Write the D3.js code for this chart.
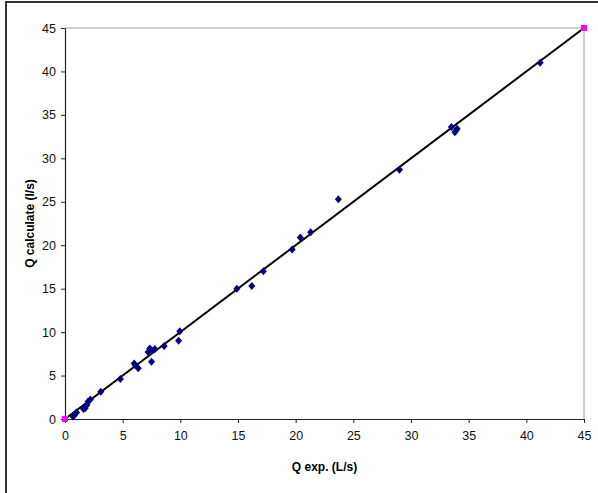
<!DOCTYPE html>
<html>
<head>
<meta charset="utf-8">
<script src="https://cdn.jsdelivr.net/npm/d3@7"></script>
<style>
  html, body { margin: 0; padding: 0; background: #fff; }
  svg { display: block; }
  text { font-family: "Liberation Sans", Arial, sans-serif; }
</style>
</head>
<body>
<svg id="chart" width="598" height="493"></svg>
<script>
// Measured data: Q exp. (L/s) vs Q calculate (l/s)
const qExp  = [0.7, 0.85, 1.0, 1.6, 1.75, 1.9, 2.0, 2.2, 3.1, 4.8, 6.0, 6.1, 6.35, 7.2, 7.35, 7.5, 7.5, 7.8, 8.6, 9.85, 9.95, 14.9, 16.2, 17.2, 19.7, 20.4, 21.3, 23.7, 29.0, 33.5, 33.8, 34.0, 33.9, 41.2];
const qCalc = [0.3, 0.5, 0.75, 1.15, 1.25, 1.6, 2.0, 2.25, 3.15, 4.6, 6.4, 6.2, 5.85, 7.7, 8.1, 7.9, 6.6, 8.05, 8.4, 9.0, 10.1, 15.0, 15.3, 17.0, 19.5, 20.9, 21.5, 25.3, 28.7, 33.6, 33.0, 33.4, 33.2, 41.0];
// 1:1 reference line and its end markers
const lineX = [0, 45];
const lineY = [0, 45];
const xTicks = [0, 5, 10, 15, 20, 25, 30, 35, 40, 45];
const yTicks = [0, 5, 10, 15, 20, 25, 30, 35, 40, 45];
const xTitle = "Q exp. (L/s)";
const yTitle = "Q calculate (l/s)";

const svg = d3.select("#chart");
const L = 65, R = 584, T = 28, B = 419;

const x = d3.scaleLinear().domain([0, 45]).range([L, R]);
const y = d3.scaleLinear().domain([0, 45]).range([B, T]);

// outer frame
svg.append("rect")
  .attr("x", 6).attr("y", 2).attr("width", 620).attr("height", 520)
  .attr("fill", "none").attr("stroke", "#333").attr("stroke-width", 2);

// plot area border (top/right gray)
svg.append("path")
  .attr("d", `M${L},${T}H${R}V${B}`)
  .attr("fill", "none").attr("stroke", "#a0a0a0").attr("stroke-width", 1);

// axes
const xAxis = d3.axisBottom(x).tickValues(xTicks).tickSize(4).tickPadding(8).tickSizeOuter(0);
const yAxis = d3.axisLeft(y).tickValues(yTicks).tickSize(4).tickPadding(5).tickSizeOuter(0);

const gx = svg.append("g").attr("transform", `translate(0,${B})`).call(xAxis);
const gy = svg.append("g").attr("transform", `translate(${L},0)`).call(yAxis);
[gx, gy].forEach(g => {
  g.select(".domain").attr("stroke", "#222").attr("stroke-width", 1.2);
  g.selectAll(".tick line").attr("stroke", "#222");
  g.selectAll(".tick text").attr("font-size", 12.5).attr("fill", "#111")
    .attr("font-family", "'Liberation Sans', Arial, sans-serif");
});

// 1:1 line
svg.append("line")
  .attr("x1", x(lineX[0])).attr("y1", y(lineY[0]))
  .attr("x2", x(lineX[1])).attr("y2", y(lineY[1]))
  .attr("stroke", "#000").attr("stroke-width", 2);

// data diamonds
const diamond = "M0,-4L3.5,0L0,4L-3.5,0Z";
svg.append("g").selectAll("path")
  .data(qExp.map((v, i) => [v, qCalc[i]]))
  .join("path")
  .attr("d", diamond)
  .attr("transform", d => `translate(${x(d[0])},${y(d[1])})`)
  .attr("fill", "#000080");

// magenta squares at line ends
svg.append("g").selectAll("rect")
  .data(lineX.map((v, i) => [v, lineY[i]]))
  .join("rect")
  .attr("x", d => x(d[0]) - 3).attr("y", d => y(d[1]) - 3)
  .attr("width", 6).attr("height", 6)
  .attr("fill", "#ff00ff");

// titles
svg.append("text")
  .attr("x", (L + R) / 2).attr("y", 471)
  .attr("text-anchor", "middle").attr("font-size", 12).attr("font-weight", "bold")
  .text(xTitle);

svg.append("text")
  .attr("transform", `translate(34,${(T + B) / 2}) rotate(-90)`)
  .attr("text-anchor", "middle").attr("font-size", 12).attr("font-weight", "bold")
  .text(yTitle);
</script>
</body>
</html>
